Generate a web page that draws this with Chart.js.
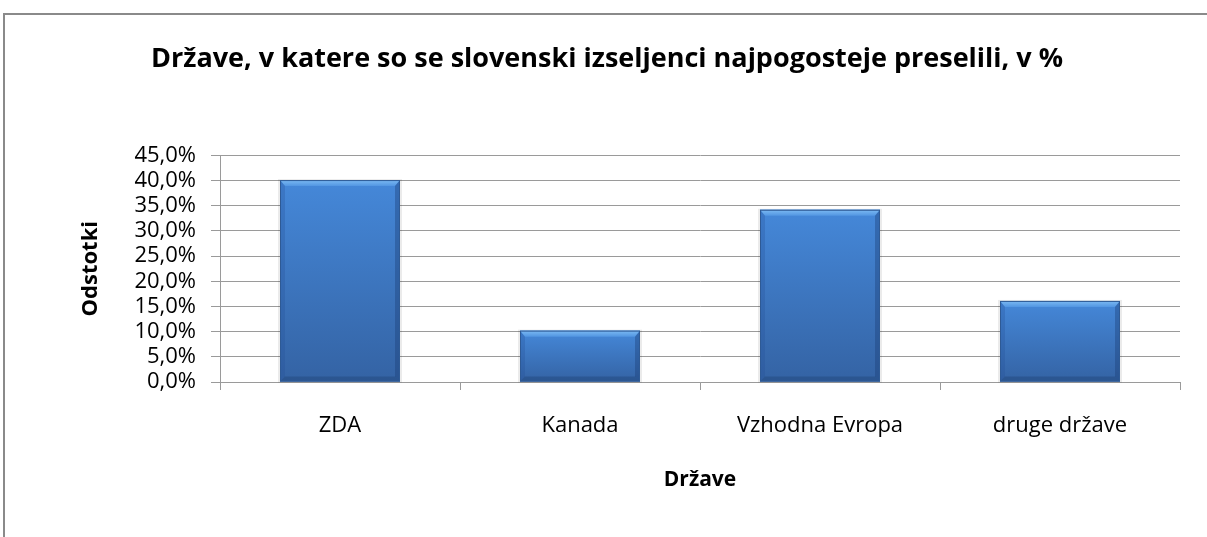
<!DOCTYPE html>
<html>
<head>
<meta charset="utf-8">
<script src="https://cdn.jsdelivr.net/npm/chart.js@4/dist/chart.umd.min.js"></script>
<style>
html,body{margin:0;padding:0;background:#fff;overflow:hidden;}
#wrap{position:relative;width:1207px;height:537px;}
#frame{position:absolute;left:3px;top:13px;width:1400px;height:700px;border:2px solid #8a8a8a;box-sizing:border-box;}
canvas{position:absolute;left:0;top:0;}
</style>
</head>
<body>
<div id="wrap">
<div id="frame"></div>
<canvas id="c" width="1207" height="537"></canvas>
</div>
<script>
const categories = ["ZDA", "Kanada", "Vzhodna Evropa", "druge države"];
const values = [40.1, 10.2, 34.2, 16.1];
const chartTitle = "Države, v katere so se slovenski izseljenci najpogosteje preselili, v %";
const xTitle = "Države";
const yTitle = "Odstotki";
const yMin = 0, yMax = 45, yStep = 5;

const FONT = "'Open Sans', 'Noto Sans', sans-serif";

const bevelPlugin = {
  id: 'bevel',
  afterDatasetsDraw(chart) {
    const ctx = chart.ctx;
    const meta = chart.getDatasetMeta(0);
    meta.data.forEach(bar => {
      const w = bar.width;
      const l = bar.x - w / 2, r = bar.x + w / 2;
      const t = Math.min(bar.y, bar.base), b = Math.max(bar.y, bar.base);
      const bt = 6, bs = 5, bb = 5;
      ctx.save();
      // soft shadow
      ctx.fillStyle = 'rgba(0,0,0,0.08)';
      ctx.fillRect(l - 2, t - 1, w + 4, b - t + 2);
      const g = ctx.createLinearGradient(0, t, 0, b);
      g.addColorStop(0, '#4588d9');
      g.addColorStop(1, '#3463a4');
      ctx.fillStyle = g;
      ctx.fillRect(l, t, w, b - t);
      // top bevel
      const gt = ctx.createLinearGradient(0, t, 0, t + bt);
      gt.addColorStop(0, '#7cbaf3');
      gt.addColorStop(1, '#5296e2');
      ctx.fillStyle = gt;
      ctx.beginPath();
      ctx.moveTo(l, t); ctx.lineTo(r, t); ctx.lineTo(r - bs, t + bt); ctx.lineTo(l + bs, t + bt); ctx.closePath();
      ctx.fill();
      // left bevel
      ctx.fillStyle = 'rgba(35,80,150,0.28)';
      ctx.beginPath();
      ctx.moveTo(l, t); ctx.lineTo(l + bs, t + bt); ctx.lineTo(l + bs, b - bb); ctx.lineTo(l, b); ctx.closePath();
      ctx.fill();
      // right bevel
      ctx.fillStyle = 'rgba(25,60,115,0.38)';
      ctx.beginPath();
      ctx.moveTo(r, t); ctx.lineTo(r - bs, t + bt); ctx.lineTo(r - bs, b - bb); ctx.lineTo(r, b); ctx.closePath();
      ctx.fill();
      // bottom bevel
      ctx.fillStyle = 'rgba(30,65,115,0.4)';
      ctx.beginPath();
      ctx.moveTo(l, b); ctx.lineTo(l + bs, b - bb); ctx.lineTo(r - bs, b - bb); ctx.lineTo(r, b); ctx.closePath();
      ctx.fill();
      ctx.strokeStyle = '#2e5a95';
      ctx.lineWidth = 1;
      ctx.strokeRect(l + 0.5, t + 0.5, w - 1, b - t - 1);
      ctx.restore();
    });
  }
};

new Chart(document.getElementById('c'), {
  type: 'bar',
  data: {
    labels: categories,
    datasets: [{
      data: values,
      backgroundColor: '#3d78c6',
      borderWidth: 0,
      categoryPercentage: 1.0,
      barPercentage: 0.5,
      yAxisID: 'y'
    }]
  },
  options: {
    responsive: false,
    animation: false,
    devicePixelRatio: 1,
    layout: { padding: { left: 7, right: 0, top: 0, bottom: 0 } },
    plugins: {
      legend: { display: false },
      tooltip: { enabled: false },
      title: {
        display: true,
        text: chartTitle,
        color: '#000',
        font: { family: FONT, size: 27, weight: 'bold' },
        padding: { top: 43, bottom: 80 }
      }
    },
    scales: {
      x: {
        afterFit(scale) { scale.height = 155; },
        grid: { display: true, drawOnChartArea: false, offset: true, tickLength: 8, color: '#9a9a9a' },
        border: { display: true, color: '#9a9a9a' },
        ticks: { color: '#000', font: { family: FONT, size: 22 }, padding: 23, maxRotation: 0, autoSkip: false },
        title: {
          display: true, text: xTitle, color: '#000',
          font: { family: FONT, size: 21, weight: 'bold' },
          padding: { top: 0, bottom: 44 }
        }
      },
      y: {
        min: yMin, max: yMax,
        afterFit(scale) { scale.width = 213; },
        grid: { color: '#9a9a9a', tickLength: 9 },
        border: { display: true, color: '#9a9a9a' },
        ticks: {
          stepSize: yStep, color: '#000', padding: 15, autoSkip: false,
          font: { family: FONT, size: 22, lineHeight: 1 },
          callback: v => v.toFixed(1).replace('.', ',') + '%'
        },
        title: {
          display: true, text: yTitle, color: '#000',
          font: { family: FONT, size: 22, weight: 'bold' },
          padding: { top: 71, bottom: 0 }
        }
      },
      yRight: {
        position: 'right',
        display: true,
        afterFit(scale) { scale.width = 27; },
        grid: { display: false, drawOnChartArea: false },
        border: { display: false },
        ticks: { display: false }
      }
    }
  },
  plugins: [bevelPlugin]
});
</script>
</body>
</html>
